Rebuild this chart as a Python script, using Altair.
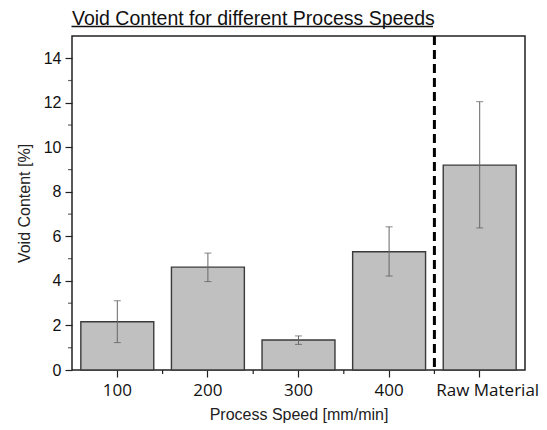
import altair as alt
import pandas as pd

chart_title = "Void Content for different Process Speeds"
categories = ["100", "200", "300", "400", "Raw Material"]
void_mean = [2.17, 4.62, 1.35, 5.31, 9.2]
err_low = [1.23, 3.97, 1.15, 4.22, 6.38]
err_high = [3.11, 5.25, 1.53, 6.43, 12.05]
minor_ticks = [1, 3, 5, 7, 9, 11, 13]
major_ticks = [0, 2, 4, 6, 8, 10, 12, 14]

df = pd.DataFrame({"cat": categories, "mean": void_mean, "lo": err_low, "hi": err_high})

W, H = 453, 334
xscale = alt.Scale(domain=categories, paddingInner=0, paddingOuter=0)
yscale = alt.Scale(domain=[0, 15], nice=False)

xaxis = alt.Axis(title="Process Speed [mm/min]", labelAngle=0,
                 labelFont="Open Sans", labelFontSize=17, labelColor="#111",
                 labelOffset={"condition": {"test": "datum.value == 'Raw Material'", "value": 8}, "value": 0},
                 labelPadding=5, tickSize=7, tickColor="#222", tickWidth=1.2, domain=False,
                 titleFont="Liberation Sans", titleFontSize=16, titleFontWeight="normal",
                 titleColor="#222", titlePadding=8)
yaxis = alt.Axis(title="Void Content [%]", values=major_ticks,
                 labelFont="Liberation Sans", labelFontSize=16, labelColor="#111",
                 labelPadding=4, tickSize=7, tickColor="#222", tickWidth=1.2, domain=False, grid=False,
                 titleFont="Liberation Sans", titleFontSize=16, titleFontWeight="normal",
                 titleColor="#222", titlePadding=11)

bars = alt.Chart(df).mark_bar(width=alt.RelativeBandSize(0.805), fill="#c0c0c0",
                              stroke="#3a3a3a", strokeWidth=1.4).encode(
    x=alt.X("cat:N", scale=xscale, sort=categories, axis=xaxis),
    y=alt.Y("mean:Q", scale=yscale, axis=yaxis),
)

minor = alt.Chart(pd.DataFrame({"mean": minor_ticks})).mark_tick(
    orient="horizontal", size=4, thickness=1.2, color="#222", clip=False).encode(
    y=alt.Y("mean:Q", scale=yscale, axis=yaxis),
    x=alt.value(-2),
)

err = alt.Chart(df).mark_rule(color="#666", strokeWidth=1).encode(
    x=alt.X("cat:N", scale=xscale, sort=categories),
    y=alt.Y("lo:Q", scale=yscale),
    y2="hi:Q",
)
cap_lo = alt.Chart(df).mark_tick(orient="horizontal", size=7, thickness=1, color="#555").encode(
    x=alt.X("cat:N", scale=xscale, sort=categories),
    y=alt.Y("lo:Q", scale=yscale),
)
cap_hi = alt.Chart(df).mark_tick(orient="horizontal", size=7, thickness=1, color="#555").encode(
    x=alt.X("cat:N", scale=xscale, sort=categories),
    y=alt.Y("hi:Q", scale=yscale),
)

# minor ticks at the category boundaries on the x axis
xminor = alt.Chart(pd.DataFrame({"cat": categories[1:]})).mark_rule(
    color="#222", strokeWidth=1.2, clip=False).encode(
    x=alt.X("cat:N", scale=xscale, sort=categories, bandPosition=0),
    y=alt.value(H),
    y2=alt.value(H + 4),
)

divider = alt.Chart(pd.DataFrame({"cat": ["Raw Material"]})).mark_rule(
    color="#000", strokeWidth=3, strokeDash=[9, 5]).encode(
    x=alt.X("cat:N", scale=xscale, sort=categories, bandPosition=0),
    y=alt.value(0),
    y2=alt.value(H),
)

title_text = alt.Chart(pd.DataFrame({"t": [chart_title]})).mark_text(
    align="left", baseline="alphabetic", font="Liberation Sans", fontSize=19.5,
    color="#111", clip=False).encode(
    text="t:N", x=alt.value(0), y=alt.value(-11),
)

underline = alt.Chart(pd.DataFrame({"a": [0]})).mark_rule(color="#111", strokeWidth=1.3, clip=False).encode(
    x=alt.value(-0.5), x2=alt.value(361), y=alt.value(-9.5),
)

chart = alt.layer(bars, minor, err, cap_lo, cap_hi, xminor, divider, title_text, underline).properties(
    width=W, height=H,
    background="white",
    autosize=alt.AutoSizeParams(type="none"),
    padding={"left": 72, "top": 36, "right": 22, "bottom": 60},
).configure_view(stroke="#222", strokeWidth=1.5)

chart.save("out.html", embed_options={"renderer": "svg", "actions": False})
